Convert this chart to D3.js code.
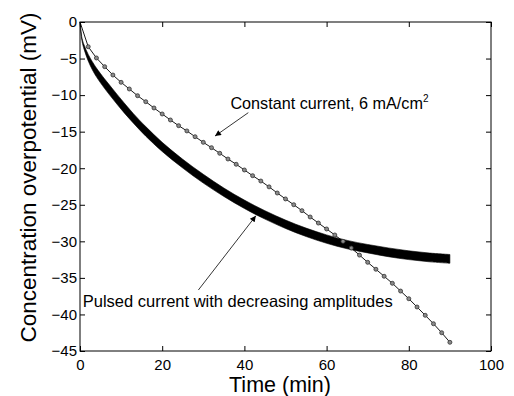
<!DOCTYPE html>
<html>
<head>
<meta charset="utf-8">
<script src="https://cdn.jsdelivr.net/npm/d3@7"></script>
<style>
  html, body { margin: 0; padding: 0; background: #fff; }
  svg { display: block; font-family: "Liberation Sans", Arial, sans-serif; }
</style>
</head>
<body>
<svg id="chart" width="514" height="396"></svg>
<script>
// constant current, 6 mA/cm2 (markers every 2 min)
const constTime = [0, 2, 4, 6, 8, 10, 12, 14, 16, 18, 20, 22, 24, 26, 28, 30, 32, 34, 36, 38, 40,
  42, 44, 46, 48, 50, 52, 54, 56, 58, 60, 62, 64, 66, 68, 70, 72, 74, 76, 78, 80, 82, 84, 86, 88, 90];
const constValue = [0, -3.38, -4.92, -6.11, -7.25, -8.25, -9.16, -10.08, -10.9, -11.76, -12.58,
  -13.4, -14.18, -14.9, -15.69, -16.46, -17.19, -17.96, -18.74, -19.46, -20.24,
  -21.02, -21.75, -22.55, -23.39, -24.2, -24.99, -25.8, -26.67, -27.5, -28.31,
  -29.13, -30.0, -30.92, -31.88, -32.87, -33.82, -34.78, -35.74, -36.8, -37.85,
  -38.98, -40.12, -41.27, -42.5, -43.81];

// pulsed current: upper / lower edge of the oscillating band
const pulsedTime = [0, 0.5, 1, 2, 3, 4, 6, 8, 10, 13, 16, 20, 25, 30, 35, 40, 45, 50, 55, 60, 65, 70, 75, 80, 85, 90];
const pulsedUpper = [0, -2.24, -3.15, -4.43, -5.43, -6.3, -7.8, -9.19, -10.57, -12.54, -14.31, -16.46,
  -18.78, -20.83, -22.71, -24.36, -25.81, -27.09, -28.19, -29.12, -29.87, -30.43, -30.9, -31.3, -31.6, -31.8];
const pulsedLower = [-0.1, -2.64, -3.75, -5.33, -6.53, -7.5, -9.1, -10.54, -11.92, -13.84, -15.61, -17.71,
  -19.98, -22.03, -23.86, -25.51, -26.96, -28.24, -29.34, -30.27, -31.02, -31.58, -32.1, -32.5, -32.8, -33.0];

const xTicks = [0, 20, 40, 60, 80, 100];
const yTicks = [0, -5, -10, -15, -20, -25, -30, -35, -40, -45];

const svg = d3.select("#chart");
const width = 514, height = 396;
const margin = { top: 22, right: 23, bottom: 45, left: 80 };
const innerW = width - margin.left - margin.right;
const innerH = height - margin.top - margin.bottom;

svg.append("rect").attr("width", width).attr("height", height).attr("fill", "#fff");

const g = svg.append("g").attr("transform", `translate(${margin.left},${margin.top})`);

const x = d3.scaleLinear().domain([0, 100]).range([0, innerW]);
const y = d3.scaleLinear().domain([-45, 0]).range([innerH, 0]);

// pulsed band
const band = pulsedTime.map((t, i) => ({ t, hi: pulsedUpper[i], lo: pulsedLower[i] }));
g.append("path")
  .datum(band)
  .attr("d", d3.area()
    .x(d => x(d.t))
    .y0(d => y(d.lo))
    .y1(d => y(d.hi))
    .curve(d3.curveCatmullRom.alpha(0.5)))
  .attr("fill", "#000")
  .attr("stroke", "#000")
  .attr("stroke-width", 0.6);

// constant current line + markers
const cpts = constTime.map((t, i) => ({ t, v: constValue[i] }));
g.append("path")
  .datum(cpts)
  .attr("d", d3.line().x(d => x(d.t)).y(d => y(d.v)))
  .attr("fill", "none")
  .attr("stroke", "#000")
  .attr("stroke-width", 0.9);

g.selectAll("circle.mk")
  .data(cpts.slice(1))
  .join("circle")
  .attr("class", "mk")
  .attr("cx", d => x(d.t))
  .attr("cy", d => y(d.v))
  .attr("r", 2)
  .attr("fill", "#8a8a8a")
  .attr("stroke", "#333")
  .attr("stroke-width", 0.8);

// axes, ticks pointing inward
function styleAxis(sel) {
  sel.select(".domain").remove();
  sel.selectAll("line").attr("stroke", "#000");
  sel.selectAll("text").attr("fill", "#000").style("font-size", "15px")
    .style("font-family", "'Liberation Sans', Arial, sans-serif");
}

g.append("g")
  .attr("transform", `translate(0,${innerH})`)
  .call(d3.axisBottom(x).tickValues(xTicks).tickSizeInner(-5).tickSizeOuter(0).tickPadding(8))
  .call(styleAxis);

g.append("g")
  .call(d3.axisTop(x).tickValues(xTicks).tickSizeInner(-5).tickSizeOuter(0).tickFormat(""))
  .call(styleAxis);

g.append("g")
  .call(d3.axisLeft(y).tickValues(yTicks).tickSizeInner(-5).tickSizeOuter(0).tickPadding(3))
  .call(styleAxis);

g.append("g")
  .attr("transform", `translate(${innerW},0)`)
  .call(d3.axisRight(y).tickValues(yTicks).tickSizeInner(-5).tickSizeOuter(0).tickFormat(""))
  .call(styleAxis);

g.append("rect")
  .attr("width", innerW)
  .attr("height", innerH)
  .attr("fill", "none")
  .attr("stroke", "#000")
  .attr("stroke-width", 1);

// axis titles
svg.append("text")
  .attr("x", 280)
  .attr("y", 392)
  .attr("text-anchor", "middle")
  .style("font-size", "21.5px")
  .text("Time (min)");

svg.append("text")
  .attr("transform", "translate(36,177.5) rotate(-90)")
  .attr("text-anchor", "middle")
  .style("font-size", "22.5px")
  .text("Concentration overpotential (mV)");

// annotations
svg.append("defs").append("marker")
  .attr("id", "arr")
  .attr("viewBox", "0 0 10 10")
  .attr("refX", 10).attr("refY", 5)
  .attr("markerWidth", 9).attr("markerHeight", 6)
  .attr("markerUnits", "userSpaceOnUse")
  .attr("orient", "auto")
  .append("path").attr("d", "M0,0 L10,5 L0,10 Z").attr("fill", "#000");

const constLabel = g.append("text")
  .attr("x", x(36.6)).attr("y", y(-11.9))
  .style("font-size", "16.2px");
constLabel.append("tspan").text("Constant current, 6 mA/cm");
constLabel.append("tspan").attr("dy", -7).style("font-size", "10px").text("2");

g.append("line")
  .attr("x1", x(40.95)).attr("y1", y(-12.4))
  .attr("x2", x(32.85)).attr("y2", y(-15.6))
  .attr("stroke", "#000").attr("stroke-width", 0.8)
  .attr("marker-end", "url(#arr)");

g.append("text")
  .attr("x", x(0.66)).attr("y", y(-38.98))
  .style("font-size", "16.5px")
  .text("Pulsed current with decreasing amplitudes");

g.append("line")
  .attr("x1", x(28.8)).attr("y1", y(-36.66))
  .attr("x2", x(42.8)).attr("y2", y(-26.5))
  .attr("stroke", "#000").attr("stroke-width", 0.8)
  .attr("marker-end", "url(#arr)");
</script>
</body>
</html>
